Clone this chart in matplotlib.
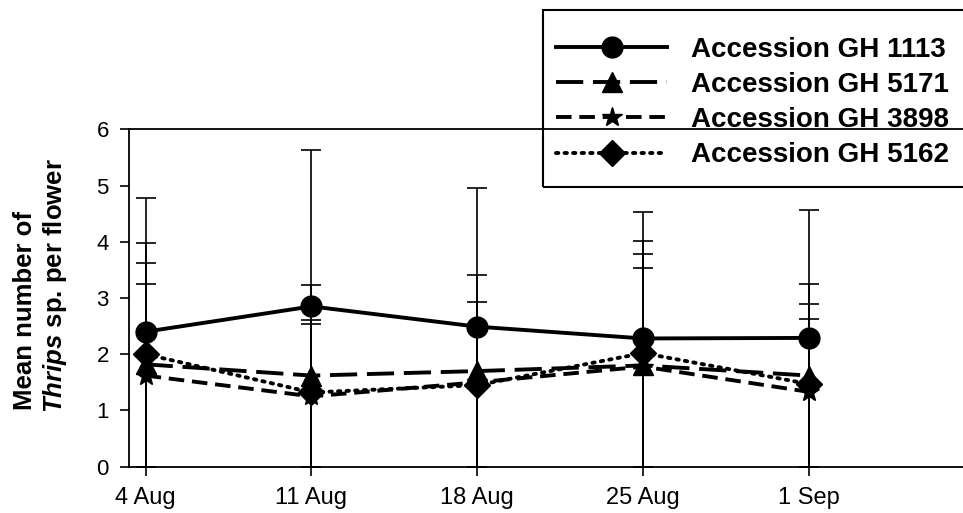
import numpy as np
import matplotlib
matplotlib.use('Agg')
import matplotlib.pyplot as plt
from matplotlib.patches import Rectangle

plt.rcParams['font.family'] = ['Liberation Sans', 'DejaVu Sans']
plt.rcParams['mathtext.fontset'] = 'custom'
plt.rcParams['mathtext.it'] = 'Liberation Sans:style=italic:weight=bold'
plt.rcParams['mathtext.rm'] = 'Liberation Sans:weight=bold'

# sampling dates (days after 4 Aug) and labels
days = [0, 7, 14, 21, 28]
date_labels = ['4 Aug', '11 Aug', '18 Aug', '25 Aug', '1 Sep']

# mean thrips per flower
gh1113 = [2.40, 2.85, 2.49, 2.28, 2.29]
gh5171 = [1.82, 1.62, 1.70, 1.80, 1.62]
gh3898 = [1.62, 1.25, 1.50, 1.78, 1.33]
gh5162 = [2.00, 1.32, 1.45, 2.02, 1.47]

# upper error (SD)
err1113 = [2.37, 2.78, 2.46, 2.25, 2.27]
err5171 = [1.81, 1.61, 1.70, 1.99, 1.63]
err3898 = [1.62, 1.28, 0.95, 1.76, 1.30]
err5162 = [1.97, 1.29, 1.48, 2.00, 1.42]

series = [
    ('Accession GH 1113', gh1113, err1113, 'o', 15, '-'),
    ('Accession GH 5171', gh5171, err5171, '^', 14, (0, (7, 2.5))),
    ('Accession GH 3898', gh3898, err3898, '*', 15, (0, (4, 2))),
    ('Accession GH 5162', gh5162, err5162, 'D', 13, (0, (0.6, 1.6))),
]

fig = plt.figure(figsize=(9.63, 5.13), dpi=100)
ax = fig.add_axes([0.134, 0.0903, 0.866, 0.6577])

x = np.array(days)
handles = []
for label, mean, err, mk, ms, ls in series:
    mean = np.array(mean)
    # lower part of the bars runs down to zero
    ax.errorbar(x, mean, yerr=[mean, np.array(err)], fmt='none', ecolor='black',
                elinewidth=1.2, capsize=7, capthick=1.2, zorder=2)
    h, = ax.plot(x, mean, color='black', linestyle=ls, linewidth=2.8,
                 marker=mk, markersize=ms, markerfacecolor='black',
                 markeredgecolor='black', label=label, zorder=3)
    if ls == (0, (0.6, 1.6)):
        h.set_dash_capstyle('round')
    handles.append(h)

ax.set_xlim(-0.7, 34.5)
ax.set_ylim(0, 6)
ax.set_xticks(days)
ax.set_xticklabels(date_labels)
ax.set_yticks(range(0, 7))
ax.tick_params(axis='both', direction='out', length=6.5, width=1.2,
               labelsize=16, pad=8, color='black')
ax.tick_params(axis='x', labelsize=17)
for s in ['left', 'bottom', 'top']:
    ax.spines[s].set_linewidth(1.3)
ax.spines['right'].set_visible(False)

fig.text(0.026, 0.394, 'Mean number of', rotation=90, ha='center', va='center',
         fontsize=18.5, fontweight='bold')
fig.text(0.0575, 0.443, r'$\mathit{Thrips}$ sp. per flower', rotation=90,
         ha='center', va='center', fontsize=18.5, fontweight='bold')

# legend frame drawn separately so it can run off the right edge
fig.patches.append(Rectangle((543 / 963, 1 - 187 / 513), 430 / 963, 177 / 513,
                             transform=fig.transFigure, fill=False,
                             linewidth=1.5, edgecolor='black', zorder=5))
leg = fig.legend(handles=handles, loc='center left', bbox_to_anchor=(0.5775, 0.8002),
                 prop={'weight': 'bold', 'size': 20}, numpoints=1,
                 handlelength=4.0, handletextpad=0.85, labelspacing=0.33,
                 borderpad=0, borderaxespad=0, frameon=False)

plt.savefig('out.png', dpi=100)
